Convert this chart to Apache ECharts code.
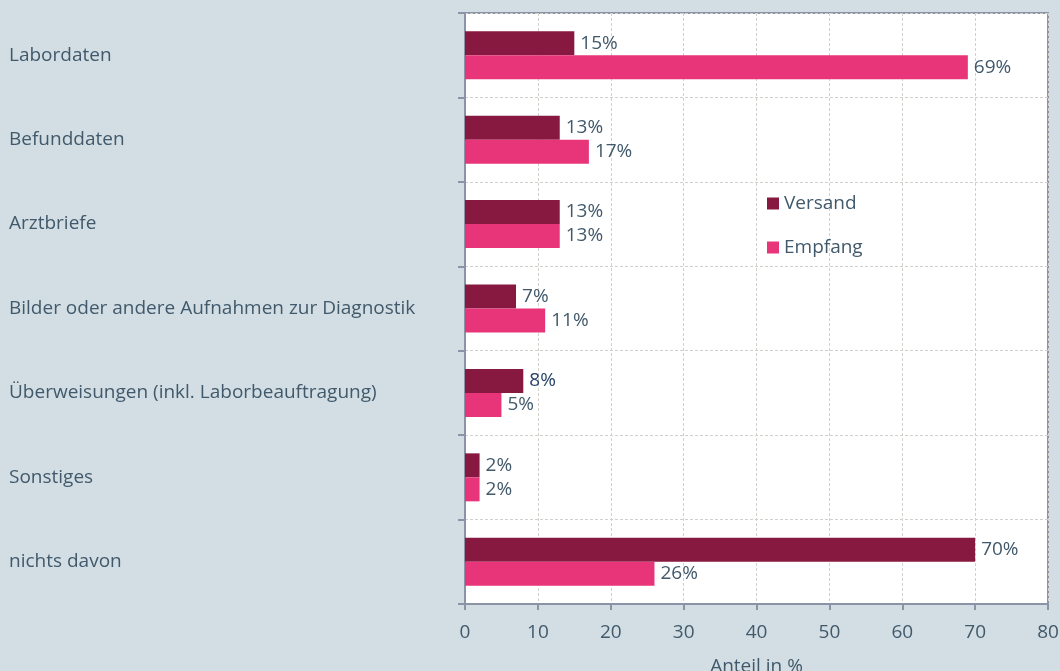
<!DOCTYPE html>
<html>
<head>
    <meta charset="utf-8" />
    <title>Anteil in %</title>
    <script src="https://cdn.jsdelivr.net/npm/echarts@6/dist/echarts.min.js"></script>
    <style>
        html, body { margin: 0; padding: 0; background: #d3dee4; }
        #charts { width: 1060px; height: 671px; }
    </style>
</head>
<body>
    <div id="charts"></div>
    <script type="text/javascript">
        // Daten
        var categories = ['Labordaten', 'Befunddaten', 'Arztbriefe', 'Bilder oder andere Aufnahmen zur Diagnostik',
            'Überweisungen (inkl. Laborbeauftragung)', 'Sonstiges', 'nichts davon'];
        var versand = [15, 13, 13, 7, 8, 2, 70];
        var empfang = [69, 17, 13, 11, 5, 2, 26];
        var xTicks = [0, 10, 20, 30, 40, 50, 60, 70, 80];

        var textColor = '#41596b';
        var lineColor = '#8a94a6';
        var gridColor = '#d2d0cb';
        var font = 'Open Sans';
        var fs = 19;

        var myChart = echarts.init(document.getElementById('charts'));

        // das "8%"-Label ist im Original dunkler
        var versandData = versand.map(function (v, i) {
            return i === 4 ? { value: v, label: { color: '#274469' } } : v;
        });

        var option = {
            backgroundColor: '#d3dee4',
            textStyle: { fontFamily: font },
            grid: {
                left: 465, right: 12, top: 13, bottom: 67,
                outerBoundsMode: 'none',
                show: true,
                backgroundColor: '#ffffff',
                borderColor: lineColor,
                borderWidth: 2
            },
            legend: {
                orient: 'vertical',
                left: 762,
                top: 189,
                itemWidth: 12,
                itemHeight: 12,
                itemGap: 25,
                icon: 'rect',
                textStyle: { color: textColor, fontSize: fs, fontFamily: font },
                data: ['Versand', 'Empfang']
            },
            xAxis: {
                type: 'value',
                min: xTicks[0],
                max: xTicks[xTicks.length - 1],
                interval: 10,
                name: 'Anteil in %',
                nameLocation: 'middle',
                nameGap: 53,
                nameTextStyle: { color: textColor, fontSize: fs },
                axisLine: { show: true, lineStyle: { color: lineColor, width: 2 } },
                axisTick: { show: true, length: 6, lineStyle: { color: lineColor, width: 2 } },
                axisLabel: { color: textColor, fontSize: fs, margin: 19 },
                splitLine: { show: true, lineStyle: { color: gridColor, type: [3, 2], width: 1 } }
            },
            yAxis: {
                type: 'category',
                inverse: true,
                data: categories,
                axisLine: { show: true, lineStyle: { color: lineColor, width: 2 } },
                axisTick: { show: true, length: 7, lineStyle: { color: lineColor, width: 2 } },
                axisLabel: { color: textColor, fontSize: fs, align: 'left', margin: 456 },
                splitLine: { show: true, lineStyle: { color: gridColor, type: [3, 2], width: 1 } }
            },
            series: [
                {
                    name: 'Versand',
                    type: 'bar',
                    barWidth: 24,
                    barGap: 0,
                    itemStyle: { color: '#87183f' },
                    label: { show: true, position: 'right', distance: 6, color: textColor, fontSize: fs, formatter: '{c}%' },
                    data: versandData
                },
                {
                    name: 'Empfang',
                    type: 'bar',
                    barWidth: 24,
                    barGap: 0,
                    itemStyle: { color: '#e8357a' },
                    label: { show: true, position: 'right', distance: 6, color: textColor, fontSize: fs, formatter: '{c}%' },
                    data: empfang
                }
            ]
        };
        myChart.setOption(option);
    </script>
</body>
</html>
